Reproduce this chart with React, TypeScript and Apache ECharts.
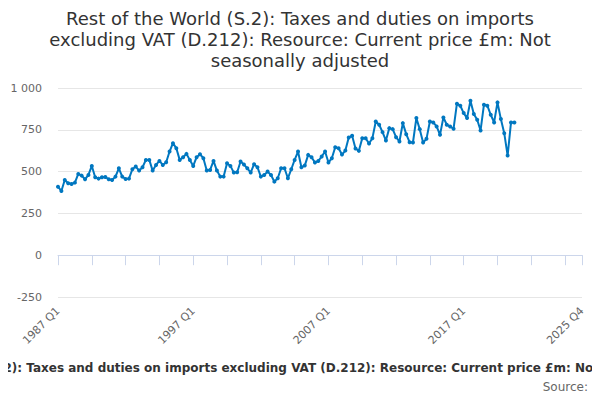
import React, { useEffect, useRef } from "react";
import * as echarts from "echarts";

const TITLE_LINES = [
  "Rest of the World (S.2): Taxes and duties on imports",
  "excluding VAT (D.212): Resource: Current price £m: Not",
  "seasonally adjusted",
];
const FOOTER_TITLE =
  "Rest of the World (S.2): Taxes and duties on imports excluding VAT (D.212): Resource: Current price £m: Not seasonally adjusted";
const SOURCE_TEXT = "Source:";

const FIRST_YEAR = 1987;
const LAST_YEAR = 2025;
const QUARTERS = ["Q1", "Q2", "Q3", "Q4"];

const categories: string[] = [];
for (let y = FIRST_YEAR; y <= LAST_YEAR; y++) {
  for (const q of QUARTERS) categories.push(`${y} ${q}`);
}

// Quarterly values, 1987 Q1 onwards (£m)
const values = [
  410, 384, 450, 430, 426, 434, 486, 476, 454, 480,
  534, 466, 458, 466, 468, 454, 450, 470, 520, 470,
  456, 458, 514, 530, 506, 526, 570, 570, 506, 540,
  564, 540, 556, 620, 670, 640, 570, 586, 606, 570,
  534, 586, 604, 580, 506, 510, 564, 506, 470, 470,
  550, 534, 494, 496, 560, 542, 520, 494, 544, 526,
  470, 480, 500, 480, 440, 460, 520, 520, 460, 514,
  570, 620, 526, 536, 600, 586, 554, 564, 590, 620,
  554, 580, 646, 640, 602, 626, 704, 714, 638, 624,
  700, 700, 668, 700, 800, 780, 736, 686, 760, 754,
  706, 680, 790, 724, 676, 674, 820, 754, 674, 696,
  800, 794, 770, 720, 824, 780, 770, 756, 906, 894,
  850, 820, 924, 844, 810, 746, 900, 894, 840, 794,
  914, 814, 730, 596, 794, 794,
];

const Y_MIN = -250;
const Y_MAX = 1000;
const Y_STEP = 250;

export default function App() {
  const ref = useRef<HTMLDivElement>(null);
  useEffect(() => {
    if (!ref.current) return;
    const chart = echarts.init(ref.current, null, { renderer: "svg" });
    const last = categories.length - 1;
    const titleGraphics = TITLE_LINES.map((line, i) => ({
      type: "text",
      x: 300,
      y: 18 + i * 21,
      style: {
        text: line,
        fontFamily: "DejaVu Sans",
        fontSize: 18,
        fill: "#333333",
        textAlign: "center",
        textVerticalAlign: "middle",
      },
    }));
    chart.setOption({
      animation: false,
      backgroundColor: "#ffffff",
      grid: { left: 58, right: 18, top: 88, bottom: 103, containLabel: false },
      xAxis: {
        type: "category",
        data: categories,
        boundaryGap: false,
        axisLine: { lineStyle: { color: "#ccd6eb", width: 1 } },
        axisTick: {
          show: true,
          length: 10,
          lineStyle: { color: "#ccd6eb" },
          interval: (i: number) => i % 10 === 0 || i === last,
        },
        axisLabel: {
          rotate: 45,
          margin: 12,
          fontFamily: "DejaVu Sans",
          fontSize: 11,
          color: "#666666",
          interval: (i: number) => i % 40 === 0 || i === last,
          showMaxLabel: true,
        },
        splitLine: { show: false },
      },
      yAxis: {
        type: "value",
        min: Y_MIN,
        max: Y_MAX,
        interval: Y_STEP,
        axisLine: { show: false },
        axisTick: { show: false },
        axisLabel: {
          margin: 16,
          fontFamily: "DejaVu Sans",
          fontSize: 11,
          color: "#666666",
          formatter: (v: number) =>
            Math.abs(v) >= 1000 ? String(v).replace(/\B(?=(\d{3})+(?!\d))/g, " ") : String(v),
        },
        splitLine: { lineStyle: { color: "#e6e6e6", width: 1 } },
      },
      series: [
        {
          type: "line",
          data: values,
          showSymbol: true,
          showAllSymbol: true,
          symbol: "circle",
          symbolSize: 4,
          lineStyle: { color: "#0077c0", width: 2 },
          itemStyle: { color: "#0077c0" },
        },
      ],
      graphic: [
        ...titleGraphics,
        {
          type: "text",
          x: 300,
          y: 368,
          style: {
            text: FOOTER_TITLE,
            fontFamily: "DejaVu Sans",
            fontSize: 12,
            fontWeight: "bold",
            fill: "#333333",
            textAlign: "center",
            textVerticalAlign: "middle",
          },
        },
        {
          type: "text",
          x: 588,
          y: 387,
          style: {
            text: SOURCE_TEXT,
            fontFamily: "DejaVu Sans",
            fontSize: 12,
            fill: "#666666",
            textAlign: "right",
            textVerticalAlign: "middle",
          },
        },
      ],
    });
    return () => chart.dispose();
  }, []);
  return <div ref={ref} style={{ width: 600, height: 400, margin: -8 }} />;
}
